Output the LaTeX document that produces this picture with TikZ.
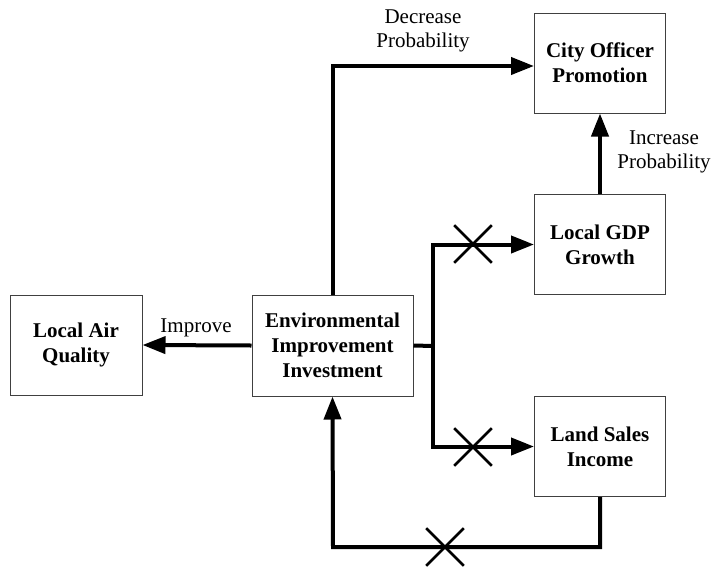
\documentclass[tikz,border=0pt]{standalone}
\usepackage{fontspec}
\setmainfont{Liberation Serif}
\usetikzlibrary{arrows.meta,shapes.misc}
\begin{document}
\begin{tikzpicture}[x=1pt,y=-1pt,
  box/.style={draw=black!75,line width=1pt,fill=white,align=center,inner sep=0pt,
    font=\fontsize{21}{25}\selectfont\bfseries,minimum width=131pt,minimum height=100pt},
  arr/.style={line width=4pt,-{Triangle[length=23pt,width=17pt]},line join=miter},
  plain/.style={line width=4pt},
  xmark/.style={cross out,draw,line width=2.6pt,minimum size=35pt,inner sep=0pt},
  lbl/.style={align=center,inner sep=0pt,font=\fontsize{21}{24}\selectfont}]
\useasboundingbox (0,0) rectangle (715,568);
\node[box] (city) at (600,63) {City Officer\\Promotion};
\node[box] (gdp) at (600,244.5) {Local GDP\\Growth};
\node[box] (land) at (600,446.5) {Land Sales\\Income};
\node[box,minimum width=161pt,minimum height=101pt] (env) at (332.5,345.5) {Environmental\\Improvement\\Investment};
\node[box,minimum width=132pt] (air) at (76,345) {Local Air\\Quality};
\coordinate (br) at (433,346);
\coordinate (bot) at (333,547);
\draw[arr] (env.north) |- ([yshift=-3pt]city.west);
\draw[arr] (gdp.north) -- (city.south);
\draw[arr] (env.west) -- (air.east);
\draw[plain] (env.east) -- (br);
\draw[arr] (br) |- (gdp.west);
\draw[arr] (br) |- (land.west);
\draw[arr] (land.south) |- (bot) -- (env.south);
\node[xmark] (x1) at (473,244) {};
\node[xmark] (x2) at (473,447) {};
\node[xmark] (x3) at (445,547) {};
\node[lbl] (dec) at (423,31) {Decrease\\Probability};
\node[lbl] (imp) at (196,328) {Improve};
\node[lbl] (inc) at (664,152) {Increase\\Probability};
\end{tikzpicture}
\end{document}
